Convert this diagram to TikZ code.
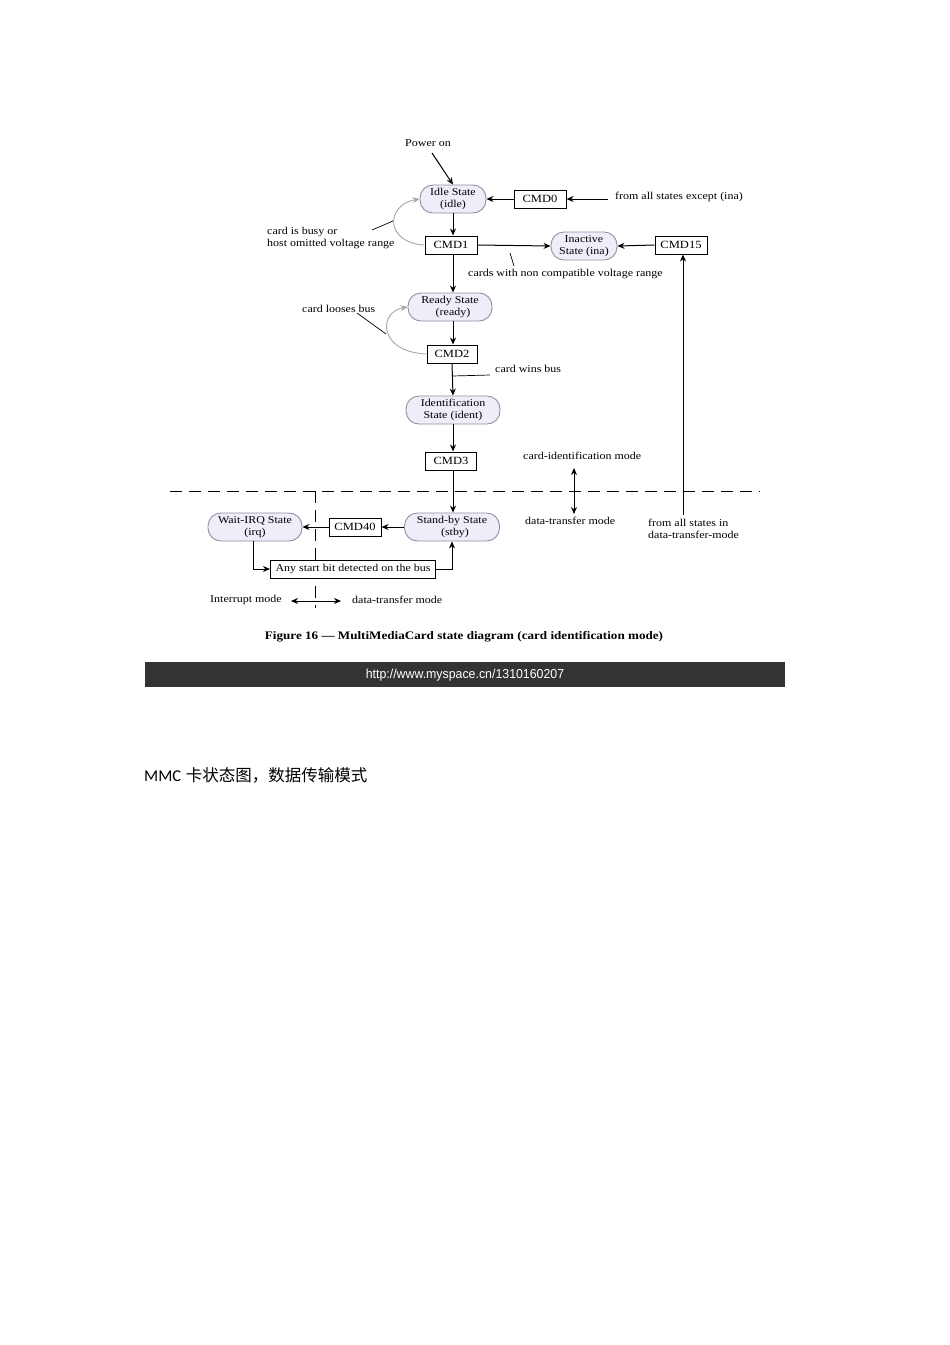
\documentclass[tikz,border=0pt]{standalone}
\usepackage{fontspec}
\setmainfont{Liberation Serif}[FakeStretch=1.14]
\newfontfamily\barfont{Liberation Sans}[FakeStretch=0.95]
\newfontfamily\cjk{Noto Sans CJK SC}
\newfontfamily\latinb{Carlito}
\usetikzlibrary{arrows.meta,calc}
\definecolor{statefill}{HTML}{EEEEF8}
\definecolor{stateline}{HTML}{8E8EA6}
\definecolor{bardark}{HTML}{333333}
\tikzset{
  statenode/.style={draw=stateline, fill=statefill, rounded corners=13pt, minimum height=28pt, align=center, font=\fontsize{10.5}{12.5}\selectfont, inner sep=1pt, line width=0.9pt},
  cmdbox/.style={draw=black, fill=white, line width=1pt, minimum height=18pt, font=\fontsize{11}{11}\selectfont, inner sep=2pt},
  lbl/.style={font=\fontsize{10.5}{12}\selectfont, align=left, inner sep=0pt},
  arr/.style={-{Stealth[length=7pt,width=6pt]}, line width=1pt},
  darr/.style={{Stealth[length=7pt,width=6pt]}-{Stealth[length=7pt,width=6pt]}, line width=1pt},
  loopline/.style={draw=gray!70, line width=0.9pt, -{Stealth[length=7pt,width=6pt]}},
  leader/.style={line width=0.7pt},
  modeline/.style={dash pattern=on 12pt off 7pt, line width=1pt}
}
\begin{document}
\begin{tikzpicture}[x=1pt,y=-1pt]
\useasboundingbox (0,0) rectangle (950,1345);
\fill[white] (0,0) rectangle (950,1345);

% mode boundaries (drawn first, boxes cover them)
\draw[modeline] (170,491) -- (760,491);
\draw[modeline] (315,491) -- (315,608);

% states
\node[statenode, minimum width=66pt] (idle) at (453,199) {Idle State\\(idle)};
\node[statenode, minimum width=66pt] (ina) at (584,246) {Inactive\\State (ina)};
\node[statenode, minimum width=84pt] (ready) at (450,307) {Ready State\\\ \ (ready)};
\node[statenode, minimum width=94pt] (ident) at (453,410) {Identification\\State (ident)};
\node[statenode, minimum width=95pt] (stby) at (452,527) {Stand-by State\\\ \ (stby)};
\node[statenode, minimum width=94pt] (irq) at (255,527) {Wait-IRQ State\\(irq)};

% command boxes
\node[cmdbox, minimum width=52pt] (cmd0) at (540,199) {CMD0};
\node[cmdbox, minimum width=52pt] (cmd1) at (451,245) {CMD1};
\node[cmdbox, minimum width=52pt] (cmd15) at (681,245) {CMD15};
\node[cmdbox, minimum width=50pt] (cmd2) at (452,354) {CMD2};
\node[cmdbox, minimum width=51pt] (cmd3) at (451,461) {CMD3};
\node[cmdbox, minimum width=52pt] (cmd40) at (355,527) {CMD40};
\node[cmdbox, minimum width=165pt, font=\fontsize{10.5}{10.5}\selectfont] (anybit) at (353,569) {Any start bit detected on the bus};

% labels
\node[lbl] (poweron) at (428,143) {Power on};
\node[lbl, anchor=west] (fromall) at (615,197) {from all states except (ina)};
\node[lbl, anchor=west] (busy) at (267,238) {card is busy or\\host omitted voltage range};
\node[lbl, anchor=west] (noncomp) at (468,274) {cards with non compatible voltage range};
\node[lbl, anchor=west] (looses) at (302,309) {card looses bus};
\node[lbl, anchor=west] (wins) at (495,369) {card wins bus};
\node[lbl, anchor=west] (cidmode) at (523,456) {card-identification mode};
\node[lbl, anchor=west] (dtmode) at (525,521) {data-transfer mode};
\node[lbl, anchor=west] (fromdt) at (648,529) {from all states in\\data-transfer-mode};
\node[lbl, anchor=west] (intmode) at (210,600) {Interrupt mode};
\node[lbl, anchor=west] (dtmode2) at (352,600) {data-transfer mode};
\node[font=\bfseries\fontsize{11.5}{11.5}\selectfont, inner sep=0pt] (caption) at (464,637) {Figure 16 — MultiMediaCard state diagram (card identification mode)};

% coordinates
\coordinate (fromallend) at (608,199);
\coordinate (pwstart) at (432,153);
\coordinate (dtbottom) at (683,515);
\coordinate (modeup) at (574,468);
\coordinate (modedown) at (574,514);
\coordinate (imL) at (291,601);
\coordinate (imR) at (341,601);

% connectors
\draw[arr] (pwstart) -- (idle.north);
\draw[arr] (fromallend) -- (cmd0.east);
\draw[arr] (cmd0.west) -- (idle.east);
\draw[arr] (idle.south -| cmd1.north) ++(2,0) coordinate (idb) -- (idb |- cmd1.north);
\draw[arr] (cmd1.east) -- (ina.west);
\draw[arr] (cmd15.west) -- (ina.east);
\draw[arr] (dtbottom) -- (dtbottom |- cmd15.south);
\draw[arr] ($(cmd1.south)+(2,0)$) coordinate (c1b) -- (c1b |- ready.north);
\draw[arr] ($(ready.south)+(3,0)$) coordinate (rb) -- (rb |- cmd2.north);
\draw[arr] (cmd2.south) -- (ident.north);
\draw[arr] (ident.south) -- (ident.south |- cmd3.north);
\draw[arr] ($(cmd3.south)+(2,0)$) coordinate (c3b) -- (c3b |- stby.north);
\draw[arr] (stby.west) -- (cmd40.east);
\draw[arr] (cmd40.west) -- (irq.east);
\draw[arr] ($(irq.south)+(-2,0)$) |- (anybit.west);
\draw[arr] (anybit.east) -| (stby.south);

% loops
\draw[loopline] (cmd1.west) .. controls (385,243) and (385,205) .. (idle.west);
\draw[loopline] (cmd2.west) .. controls (378,352) and (378,312) .. (ready.west);

% leaders
\draw[leader] (372,230) -- (393,221);
\draw[leader] (510,253) -- (514,266);
\draw[leader] (357,313) -- (386,334);
\draw[leader] (452,376) -- (490,375);

% mode arrows
\draw[darr] (modeup) -- (modedown);
\draw[darr] (imL) -- (imR);

% bar
\fill[bardark] (145,662) rectangle (785,687);
\node[text=white, font=\barfont\fontsize{13}{13}\selectfont, inner sep=0pt] (url) at (465,675) {http://www.myspace.cn/1310160207};

% chinese line
\node[anchor=west, inner sep=0pt, font=\fontsize{16.5}{16.5}\selectfont] (cn) at (144,775) {{\latinb MMC} {\cjk 卡状态图，数据传输模式}};
\end{tikzpicture}
\end{document}
